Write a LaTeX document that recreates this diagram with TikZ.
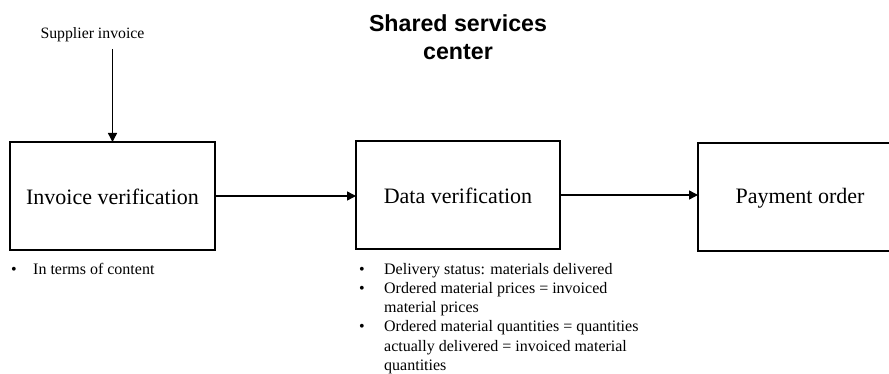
\documentclass[tikz,border=0pt]{standalone}
\usepackage{fontspec}
\setmainfont{Liberation Serif}
\newfontfamily\titlefont{Liberation Sans}
\usetikzlibrary{arrows.meta}
\tikzset{
  procbox/.style={draw, line width=1.4pt, inner sep=0pt},
  flow/.style={line width=1.4pt, -{Triangle[length=9pt,width=9pt]}},
  boxtext/.style={font=\fontsize{22}{26}\selectfont},
  smalltext/.style={font=\fontsize{16}{19.2}\selectfont, inner sep=0pt, align=left},
}
\newcommand{\bul}{\makebox[25pt][l]{\textbullet}}
\newcommand{\cont}{\hspace*{25pt}}
\begin{document}
\begin{tikzpicture}[x=1pt,y=-1pt]
  \useasboundingbox (0,0) rectangle (889,374);
  \fill[white] (0,0) rectangle (889,374);

  % title
  \node[font=\titlefont\bfseries\fontsize{23.2}{27.5}\selectfont, align=center] (title) at (458,37) {Shared services\\center};

  % process boxes
  \draw[procbox] (10,142) rectangle (215,250);
  \node[boxtext] (inv) at (112.5,197) {Invoice verification};
  \coordinate (invE) at (215,196);
  \coordinate (invN) at (112.5,142);

  \draw[procbox] (356,141) rectangle (560,249);
  \node[boxtext] (dat) at (458,196) {Data verification};
  \coordinate (datW) at (356,196);
  \coordinate (datE) at (560,195);

  \draw[procbox] (698,143) rectangle (902,251);
  \node[boxtext] (pay) at (800,198) {Payment order};
  \coordinate (payW) at (698,195);

  % input label
  \node[font=\fontsize{15.8}{19}\selectfont, inner sep=0pt] (sup) at (92.5,35) {Supplier invoice};
  \coordinate (supS) at (112.5,49);

  % connectors
  \draw[flow] (supS) -- (invN);
  \draw[flow] (invE) -- (datW);
  \draw[flow] (datE) -- (payW);

  % notes under the boxes
  \node[smalltext, anchor=west] (note1) at (11,269) {\makebox[22pt][l]{\textbullet}In terms of content};
  \node[smalltext, anchor=north west] (note2) at (359,263) {%
    \bul Delivery status: materials delivered\\
    \bul Ordered material prices = invoiced\\
    \cont material prices\\
    \bul Ordered material quantities = quantities\\
    \cont actually delivered = invoiced material\\
    \cont quantities};
\end{tikzpicture}
\end{document}
